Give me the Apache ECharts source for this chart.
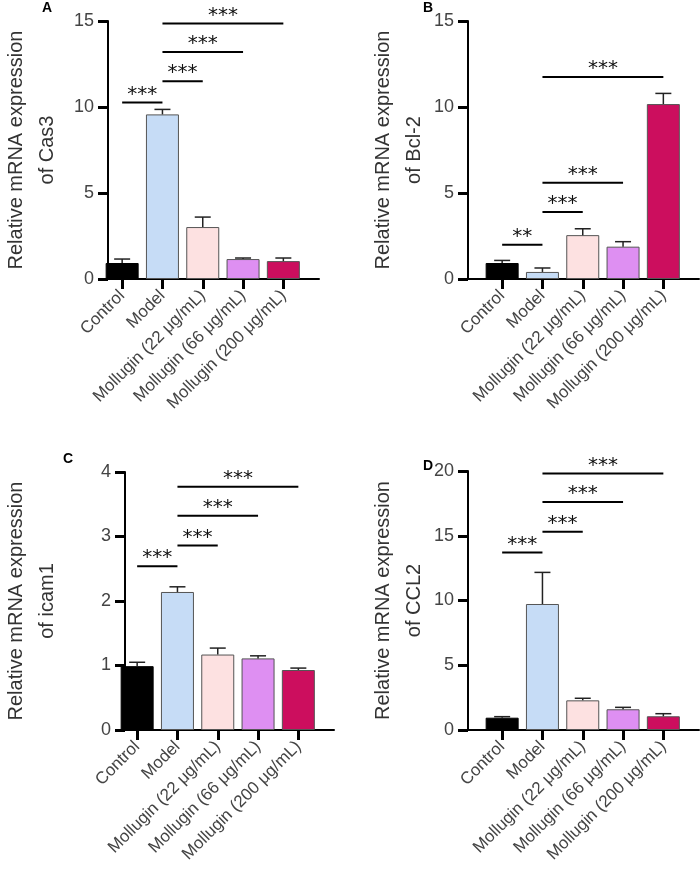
<!DOCTYPE html>
<html><head><meta charset="utf-8">
<script src="https://cdn.jsdelivr.net/npm/echarts@6/dist/echarts.min.js"></script>
<style>html,body{margin:0;background:#fff}#c{width:700px;height:875px}</style>
</head><body><div id="c"></div>
<script>
const categories = ['Control','Model','Mollugin (22 μg/mL)','Mollugin (66 μg/mL)','Mollugin (200 μg/mL)'];
const colors = ['#000000','#c6dcf6','#fde1e1','#de8ff2','#cc0e5e'];
const panelLetters = ['A','B','C','D'];
const yTitles = ['Relative mRNA expression\nof Cas3','Relative mRNA expression\nof Bcl-2','Relative mRNA expression\nof icam1','Relative mRNA expression\nof CCL2'];
const yMax = [15,15,4,20];
const yInterval = [5,5,1,5];
const meansA = [0.93,9.57,3.02,1.16,1.04];
const errA = [0.23,0.29,0.58,0.06,0.18];
const meansB = [0.93,0.41,2.55,1.88,10.17];
const errB = [0.15,0.23,0.37,0.29,0.62];
const meansC = [0.99,2.14,1.17,1.11,0.93];
const errC = [0.06,0.08,0.10,0.04,0.03];
const meansD = [0.95,9.73,2.29,1.6,1.06];
const errD = [0.08,2.44,0.16,0.15,0.2];
// brackets: [from, to, y, label]
const sigA = [[0,1,10.26,'***'],[1,2,11.5,'***'],[1,3,13.2,'***'],[1,4,14.85,'***']];
const sigB = [[0,1,1.99,'**'],[1,2,3.89,'***'],[1,3,5.6,'***'],[1,4,11.75,'***']];
const sigC = [[0,1,2.54,'***'],[1,2,2.86,'***'],[1,3,3.32,'***'],[1,4,3.77,'***']];
const sigD = [[0,1,13.7,'***'],[1,2,15.3,'***'],[1,3,17.6,'***'],[1,4,19.8,'***']];

const means=[meansA,meansB,meansC,meansD], errs=[errA,errB,errC,errD], sigs=[sigA,sigB,sigC,sigD];
const axisX=[88,468,103,468], topY=[21,21,472,471], hgt=[258,258,258,259], nameGaps=[45,34,62,34];
const letterPos=[[42,1],[423,1],[63,452],[423,459]];
const FONT='Liberation Sans';
const chart=echarts.init(document.getElementById('c'));
const grid=[],xAxis=[],yAxis=[],series=[],graphic=[];
for(let i=0;i<4;i++){
 grid.push({left:axisX[i],top:topY[i],width:231,height:hgt[i]});
 grid.push({left:axisX[i]+14,top:topY[i],width:201.5,height:hgt[i]});
 const gw=2*i, gp=2*i+1;
 xAxis.push({type:'value',gridIndex:gw,min:0,max:1,axisLine:{show:true,onZero:false,lineStyle:{color:'#000',width:2}},axisTick:{show:false},axisLabel:{show:false},splitLine:{show:false}});
 yAxis.push({type:'value',gridIndex:gw,min:0,max:yMax[i],interval:yInterval[i],splitLine:{show:false},
  axisLine:{show:true,lineStyle:{color:'#000',width:2}},axisTick:{show:true,inside:false,length:10,lineStyle:{color:'#000',width:3}},
  axisLabel:{color:'#444',fontSize:18,fontFamily:FONT,margin:14},
  name:yTitles[i],nameLocation:'middle',nameGap:nameGaps[i],nameTextStyle:{color:'#333',fontSize:20,fontFamily:FONT,lineHeight:31}});
 xAxis.push({type:'category',gridIndex:gp,data:categories,axisLine:{show:true,onZero:false,lineStyle:{color:'#000',width:2}},
  axisTick:{show:true,inside:false,alignWithLabel:true,length:10,lineStyle:{color:'#000',width:3}},
  axisLabel:{rotate:45,interval:0,color:'#444',fontSize:17,fontFamily:FONT,margin:14}});
 yAxis.push({type:'value',gridIndex:gp,min:0,max:yMax[i],interval:yInterval[i],show:false,splitLine:{show:false}});
 series.push({type:'bar',xAxisIndex:gp,yAxisIndex:gp,barWidth:33,
  data:means[i].map((v,k)=>({value:v,itemStyle:{color:colors[k],borderColor:k===0?'#000':'#555',borderWidth:1}}))});
 series.push({type:'custom',xAxisIndex:gp,yAxisIndex:gp,z:5,
  data:means[i].map((v,k)=>[k,v,v+errs[i][k]]),
  renderItem:(p,api)=>{const a=api.coord([api.value(0),api.value(1)]),b=api.coord([api.value(0),api.value(2)]);
   return {type:'group',children:[{type:'line',shape:{x1:a[0],y1:a[1],x2:b[0],y2:b[1]},style:{stroke:'#222',lineWidth:1.5}},
    {type:'line',shape:{x1:b[0]-8,y1:b[1],x2:b[0]+8,y2:b[1]},style:{stroke:'#222',lineWidth:1.5}}]};}});
 series.push({type:'custom',xAxisIndex:gp,yAxisIndex:gp,z:6,clip:false,
  data:sigs[i].map(s=>[s[0],s[1],s[2]]),
  renderItem:(p,api)=>{const a=api.coord([api.value(0),api.value(2)]),b=api.coord([api.value(1),api.value(2)]);
   const lab=sigs[i][p.dataIndex][3];
   return {type:'group',children:[{type:'line',shape:{x1:a[0],y1:a[1],x2:b[0],y2:b[1]},style:{stroke:'#000',lineWidth:2}},
    {type:'text',style:{x:(a[0]+b[0])/2,y:a[1]+2,text:lab,textAlign:'center',textVerticalAlign:'bottom',fontSize:20,fontFamily:'DejaVu Sans',fill:'#111'}}]};}});
 graphic.push({type:'text',left:letterPos[i][0],top:letterPos[i][1],style:{text:panelLetters[i],fontSize:14,fontWeight:'bold',fontFamily:FONT,fill:'#000'}});
}
chart.setOption({animation:false,grid,xAxis,yAxis,series,graphic});
</script></body></html>
